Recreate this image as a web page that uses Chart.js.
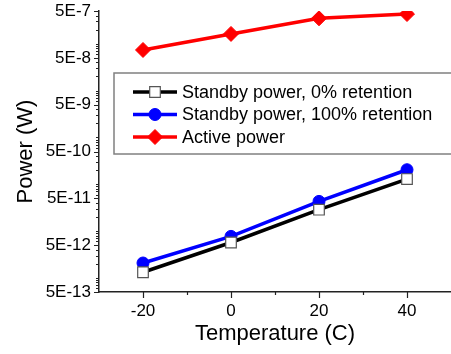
<!DOCTYPE html>
<html>
  <head>
    <title>Power vs Temperature</title>
    <script src="https://cdn.jsdelivr.net/npm/chart.js"></script>
    <style>
      html, body { margin: 0; padding: 0; background: #fff; }
      .chartframe { width: 451px; height: 354px; }
    </style>
  </head>
  <body>
    <div class="chartframe">
      <canvas id="myChart" width="451" height="354"></canvas>
    </div>
  </body>
</html>
<script>
//------------------------------------------------------------------------------
// data
//------------------------------------------------------------------------------
var temps = [-20, 0, 20, 40];
var standby0 = [1.32e-12, 5.7e-12, 2.86e-11, 1.29e-10];
var standby100 = [2.08e-12, 7.7e-12, 4.3e-11, 2.04e-10];
var activePower = [7.36e-8, 1.62e-7, 3.49e-7, 4.31e-7];

var seriesNames = ['Standby power, 0% retention', 'Standby power, 100% retention', 'Active power'];

var xTickLabels = ['-20', '0', '20', '40'];
var xMinorTicks = [-10, 10, 30];
var yTickLabels = ['5E-13', '5E-12', '5E-11', '5E-10', '5E-9', '5E-8', '5E-7'];
var yMinorMult = [1, 2, 3, 4, 6, 7, 8, 9];

var FONT = "'Liberation Sans', Arial, sans-serif";

function toPoints(ys) {
  return temps.map(function (t, i) { return { x: t, y: ys[i] }; });
}

//------------------------------------------------------------------------------
// minor ticks + major tick marks (Origin style, outside)
//------------------------------------------------------------------------------
var tickPlugin = {
  id: 'tickMarks',
  afterDraw: function (chart) {
    var ctx = chart.ctx;
    var xs = chart.scales.x, ys = chart.scales.y;
    var area = chart.chartArea;
    ctx.save();
    ctx.strokeStyle = '#222';
    ctx.lineWidth = 1.2;
    ctx.beginPath();
    // y major
    yTickLabels.forEach(function (l) {
      var p = Math.round(ys.getPixelForValue(parseFloat(l))) + 0.5;
      ctx.moveTo(area.left - 5, p); ctx.lineTo(area.left, p);
    });
    // y minor
    for (var e = -13; e <= -6; e++) {
      yMinorMult.forEach(function (m) {
        var v = m * Math.pow(10, e);
        if (v <= ys.min || v >= ys.max) return;
        var p = Math.round(ys.getPixelForValue(v)) + 0.5;
        ctx.moveTo(area.left - 3, p); ctx.lineTo(area.left, p);
      });
    }
    // x major
    xTickLabels.forEach(function (l) {
      var p = Math.round(xs.getPixelForValue(parseFloat(l))) + 0.5;
      ctx.moveTo(p, area.bottom); ctx.lineTo(p, area.bottom + 6);
    });
    // x minor
    xMinorTicks.forEach(function (v) {
      var p = Math.round(xs.getPixelForValue(v)) + 0.5;
      ctx.moveTo(p, area.bottom); ctx.lineTo(p, area.bottom + 3);
    });
    ctx.stroke();
    ctx.restore();
  }
};

//------------------------------------------------------------------------------
// legend box inside the plot
//------------------------------------------------------------------------------
var legendPlugin = {
  id: 'boxLegend',
  afterDraw: function (chart) {
    var ctx = chart.ctx;
    var bx = 114, by = 73, bw = 340, bh = 81;
    ctx.save();
    ctx.fillStyle = '#fff';
    ctx.fillRect(bx, by, bw, bh);
    ctx.strokeStyle = '#808080';
    ctx.lineWidth = 1.5;
    ctx.strokeRect(bx, by, bw, bh);

    ctx.font = '18px ' + FONT;
    ctx.textBaseline = 'middle';
    chart.data.datasets.forEach(function (ds, i) {
      var y = 92 + i * 22.5;
      ctx.strokeStyle = ds.borderColor;
      ctx.lineWidth = 3.5;
      ctx.beginPath();
      ctx.moveTo(133, y); ctx.lineTo(177, y);
      ctx.stroke();
      ctx.fillStyle = ds.pointBackgroundColor;
      ctx.strokeStyle = ds.pointBorderColor;
      ctx.lineWidth = ds.pointBorderWidth;
      Chart.helpers.drawPoint(ctx, {
        pointStyle: ds.pointStyle,
        radius: ds.pointRadius,
        borderWidth: ds.pointBorderWidth,
        rotation: 0
      }, 155, y);
      ctx.fillStyle = '#000';
      ctx.fillText(ds.label, 182, y + 1);
    });
    ctx.restore();
  }
};

//------------------------------------------------------------------------------
// chart
//------------------------------------------------------------------------------
var ctx = document.getElementById('myChart').getContext('2d');
var chart = new Chart(ctx, {
  type: 'line',
  data: {
    datasets: [{
      label: seriesNames[0],
      data: toPoints(standby0),
      borderColor: '#000',
      borderWidth: 3.5,
      pointStyle: 'rect',
      pointRadius: 7.5,
      pointBackgroundColor: '#fff',
      pointBorderColor: '#555',
      pointBorderWidth: 1.2
    }, {
      label: seriesNames[1],
      data: toPoints(standby100),
      borderColor: '#0000ff',
      borderWidth: 3.5,
      pointStyle: 'circle',
      pointRadius: 6,
      pointBackgroundColor: '#0000ff',
      pointBorderColor: '#0000ff',
      pointBorderWidth: 1
    }, {
      label: seriesNames[2],
      data: toPoints(activePower),
      borderColor: '#ff0000',
      borderWidth: 3.5,
      pointStyle: 'rectRot',
      pointRadius: 7.5,
      pointBackgroundColor: '#ff0000',
      pointBorderColor: '#ff0000',
      pointBorderWidth: 1
    }]
  },
  options: {
    responsive: false,
    animation: false,
    layout: { autoPadding: false, padding: { top: 11, right: 0, left: 0, bottom: 0 } },
    plugins: {
      legend: { display: false },
      tooltip: { enabled: false }
    },
    scales: {
      x: {
        type: 'linear',
        min: -30,
        max: 50,
        afterBuildTicks: function (scale) {
          scale.ticks = xTickLabels.map(function (l) { return { value: parseFloat(l) }; });
        },
        afterFit: function (scale) {
          scale.height = 62;
          scale.paddingLeft = 0;
          scale.paddingRight = 0;
        },
        grid: { display: false, drawTicks: false },
        border: { display: true, color: '#222', width: 1.5 },
        ticks: {
          color: '#000',
          padding: 9,
          maxRotation: 0,
          autoSkip: false,
          font: { family: FONT, size: 17 },
          callback: function (v, i) { return xTickLabels[i]; }
        },
        title: {
          display: true,
          text: 'Temperature (C)',
          color: '#000',
          padding: { top: 0, bottom: 7 },
          font: { family: FONT, size: 22 }
        }
      },
      y: {
        type: 'logarithmic',
        min: parseFloat(yTickLabels[0]),
        max: parseFloat(yTickLabels[yTickLabels.length - 1]),
        afterBuildTicks: function (scale) {
          scale.ticks = yTickLabels.map(function (l) { return { value: parseFloat(l) }; });
        },
        afterFit: function (scale) {
          scale.width = 99;
          scale.paddingTop = 0;
          scale.paddingBottom = 0;
        },
        grid: { display: false, drawTicks: false },
        border: { display: true, color: '#222', width: 1.5 },
        ticks: {
          color: '#000',
          padding: 8,
          autoSkip: false,
          font: { family: FONT, size: 17 },
          callback: function (v, i) { return yTickLabels[i]; }
        },
        title: {
          display: true,
          text: 'Power (W)',
          color: '#000',
          padding: { top: 13, bottom: 0 },
          font: { family: FONT, size: 22 }
        }
      }
    }
  },
  plugins: [tickPlugin, legendPlugin]
});
</script>
